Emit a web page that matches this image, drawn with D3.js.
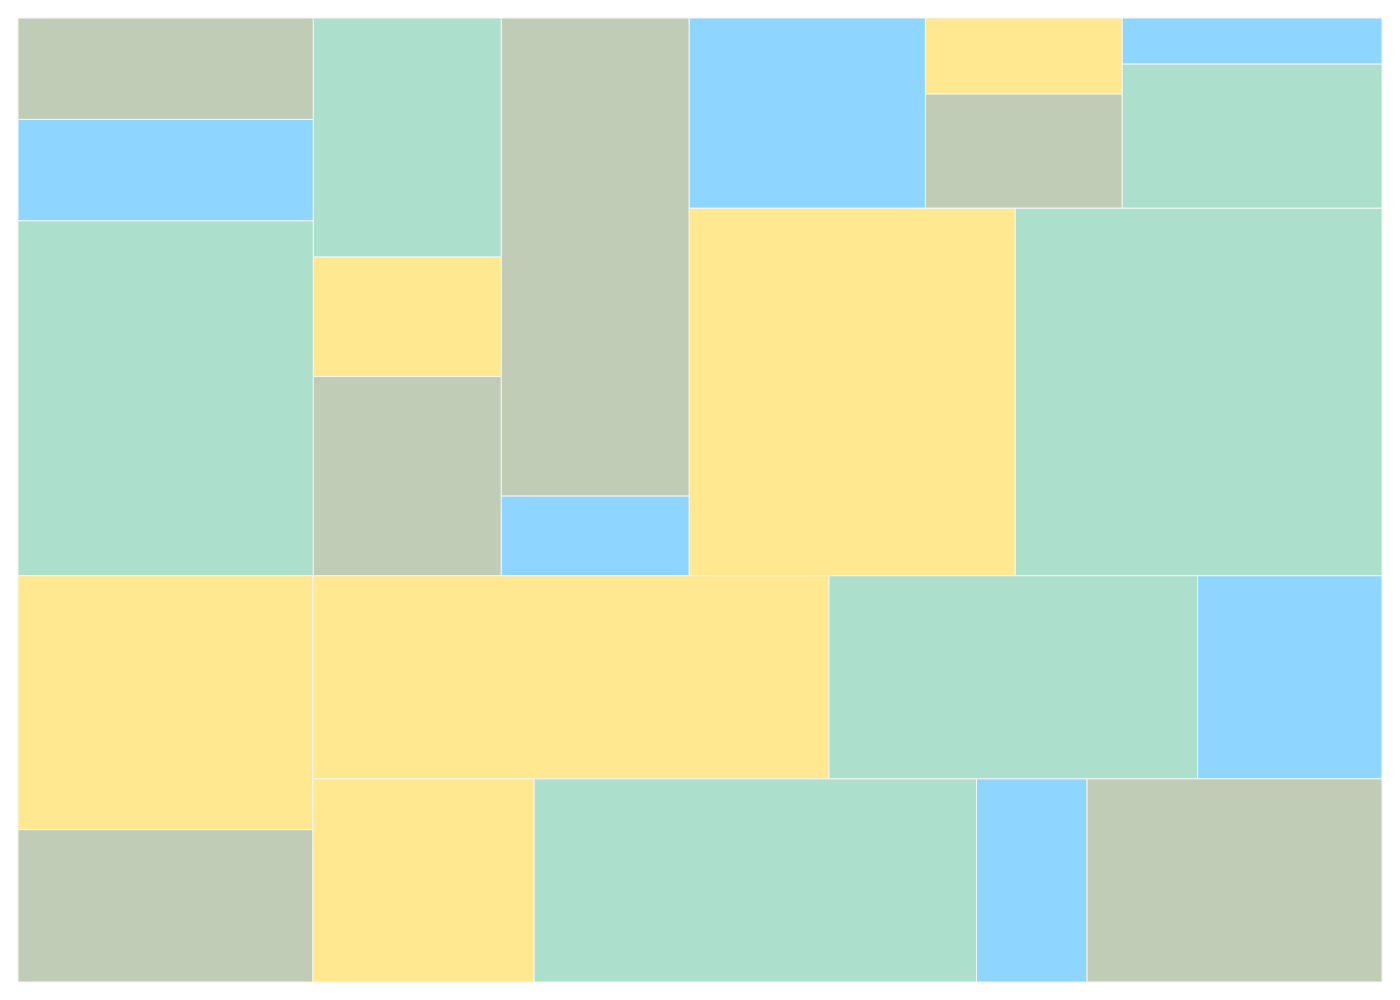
<!DOCTYPE html>
<html>
<head>
<meta charset="utf-8">
<script src="https://cdn.jsdelivr.net/npm/d3@7"></script>
<style>
  html, body { margin: 0; padding: 0; background: #fff; }
  svg { display: block; }
</style>
</head>
<body>
<svg id="chart" width="1400" height="1000"></svg>
<script>
// Leaf values (relative areas)
const values = [20, 20, 70, 30, 15, 25, 60, 10, 30, 10, 15, 8, 25, 80, 90, 50, 30, 70, 50, 25, 30, 60, 15, 40];
// Colour category of each leaf
const kinds = ["grey", "blue", "mint", "mint", "yellow", "grey", "grey", "blue", "blue", "yellow", "grey", "blue", "mint", "yellow", "mint", "yellow", "grey", "yellow", "mint", "blue", "yellow", "mint", "blue", "grey"];
// Nesting of leaves (indices into values)
const structure = [
  [[0, 1, 2], [3, 4, 5], [6, 7], [[8, [9, 10], [11, 12]], [13, 14]]],
  [[15, 16], [[17, 18, 19], [20, 21, 22, 23]]]
];
const categoryNames = ["grey", "blue", "mint", "yellow"];
const categoryColors = ["#C0CCB6", "#8ED5FF", "#ADDFCD", "#FFE88F"];

const margin = { left: 18, top: 18 };
const W = 1364, H = 964;

function build(n) {
  if (Array.isArray(n)) return { children: n.map(build) };
  return { id: n, value: values[n], kind: kinds[n] };
}

const root = d3.hierarchy(build(structure))
  .sum(d => d.value || 0);

const tile = (node, x0, y0, x1, y1) =>
  (node.depth % 2 === 0 ? d3.treemapSlice : d3.treemapDice)(node, x0, y0, x1, y1);

d3.treemap().size([W, H]).tile(tile).round(false)(root);

const color = d3.scaleOrdinal().domain(categoryNames).range(categoryColors);

const svg = d3.select("#chart");
const g = svg.append("g").attr("transform", `translate(${margin.left},${margin.top})`);

g.selectAll("rect")
  .data(root.leaves())
  .join("rect")
  .attr("x", d => d.x0)
  .attr("y", d => d.y0)
  .attr("width", d => d.x1 - d.x0)
  .attr("height", d => d.y1 - d.y0)
  .attr("fill", d => color(d.data.kind))
  .attr("stroke", "#f4f4f4")
  .attr("stroke-width", 1);
</script>
</body>
</html>
